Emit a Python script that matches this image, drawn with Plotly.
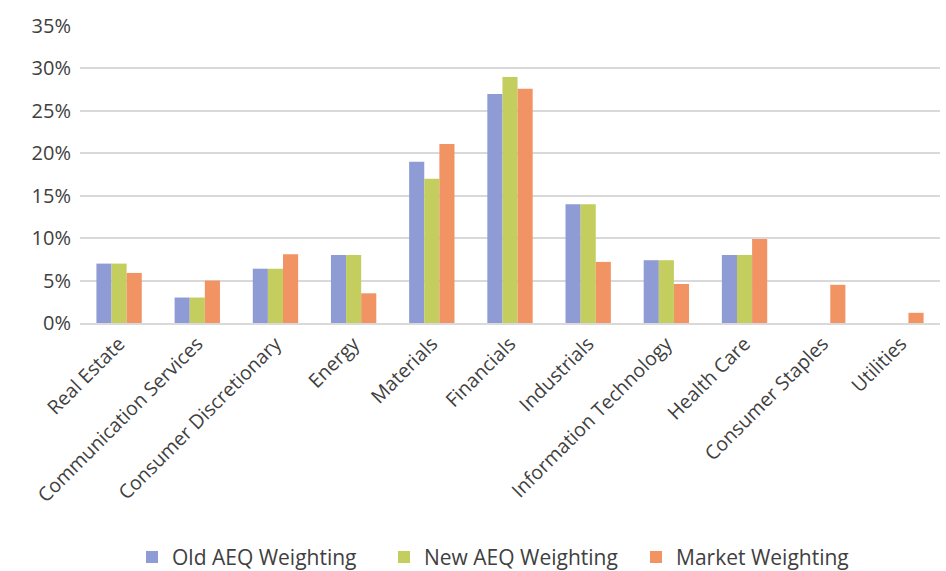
import plotly.graph_objects as go

categories = ["Real Estate", "Communication Services", "Consumer Discretionary", "Energy",
              "Materials", "Financials", "Industrials", "Information Technology",
              "Health Care", "Consumer Staples", "Utilities"]
old_aeq = [7.0, 3.0, 6.4, 8.0, 19.0, 27.0, 14.0, 7.4, 8.0, 0, 0]
new_aeq = [7.0, 3.0, 6.4, 8.0, 17.0, 29.0, 14.0, 7.4, 8.0, 0, 0]
market = [5.9, 5.0, 8.1, 3.5, 21.1, 27.6, 7.2, 4.6, 9.9, 4.5, 1.2]
y_ticks = [0, 5, 10, 15, 20, 25, 30, 35]
y_ticklabels = [f"{v}%" for v in y_ticks]

series = [("Old AEQ Weighting", old_aeq, "#8E9BD4"),
          ("New AEQ Weighting", new_aeq, "#C3CE5E"),
          ("Market Weighting", market, "#F19363")]

fig = go.Figure()
for name, vals, col in series:
    fig.add_trace(go.Bar(x=categories, y=vals, name=name, marker_color=col,
                         marker_line_width=0))

font = "Open Sans, sans-serif"
fig.update_layout(
    width=946, height=571,
    margin=dict(l=80, r=6, t=26, b=248, autoexpand=False),
    plot_bgcolor="white", paper_bgcolor="white",
    barmode="group", bargap=0.42, bargroupgap=0,
    font=dict(family=font, color="#404040", size=17),
    legend=dict(orientation="h", x=0.5, xanchor="center",
                yref="paper", y=-0.72, yanchor="top",
                font=dict(size=21, color="#404040"),
                entrywidth=207, entrywidthmode="pixels",
                itemsizing="constant", traceorder="normal"),
    showlegend=True,
)
fig.update_yaxes(range=[0, 35], tickvals=y_ticks, ticktext=y_ticklabels,
                 showgrid=True, gridcolor="#D9D9D9", gridwidth=1.5,
                 zeroline=False, showline=False, ticks="", ticklabelstandoff=8,
                 tickfont=dict(size=20), automargin=False)
fig.update_xaxes(tickangle=-45, showline=True, linecolor="#D9D9D9", linewidth=1.5,
                 ticks="", tickfont=dict(size=19.5), automargin=False)
fig.write_html("out.html")
